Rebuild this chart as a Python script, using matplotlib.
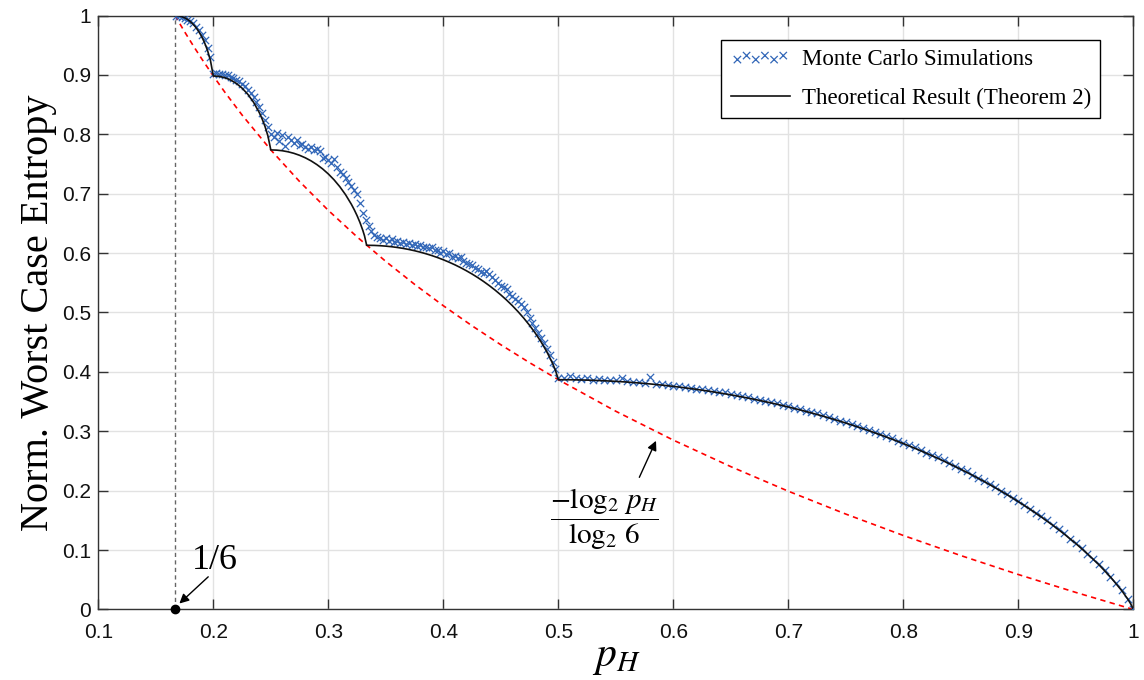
import matplotlib
matplotlib.use("Agg")

import matplotlib.pyplot as plt

# Monte Carlo simulations
mc_p = [
    0.1675, 0.17, 0.1725, 0.175, 0.1775, 0.18, 0.1825, 0.185, 0.1875, 0.19, 0.1925, 0.195, 0.1975,
    0.2, 0.2025, 0.205, 0.2075, 0.21, 0.2125, 0.215, 0.2175, 0.22, 0.2225, 0.225, 0.2275,
    0.23, 0.2325, 0.235, 0.2375, 0.24, 0.2425, 0.245, 0.2475,
    0.25, 0.2525, 0.255, 0.2575, 0.26, 0.2625, 0.265, 0.2675, 0.27, 0.2725, 0.275, 0.2775,
    0.28, 0.2825, 0.285, 0.2875, 0.29, 0.2925, 0.295, 0.2975, 0.30, 0.3025, 0.305, 0.3075,
    0.31, 0.3125, 0.315, 0.3175, 0.32, 0.3225, 0.325, 0.3275, 0.33, 0.3325,
    0.335, 0.3375, 0.34, 0.3425, 0.345, 0.3475, 0.35, 0.3525, 0.355, 0.3575, 0.36, 0.3625,
    0.365, 0.3675, 0.37, 0.3725, 0.375, 0.3775, 0.38, 0.3825, 0.385, 0.3875, 0.39, 0.3925,
    0.395, 0.3975, 0.40, 0.4025, 0.405, 0.4075, 0.41, 0.4125, 0.415, 0.4175, 0.42, 0.4225,
    0.425, 0.4275, 0.43, 0.4325, 0.435, 0.4375, 0.44, 0.4425, 0.445, 0.4475, 0.45, 0.4525,
    0.455, 0.4575, 0.46, 0.4625, 0.465, 0.4675, 0.47, 0.4725, 0.475, 0.4775, 0.48, 0.4825,
    0.485, 0.4875, 0.49, 0.4925, 0.495, 0.4975,
    0.500, 0.505, 0.510, 0.515, 0.520, 0.525, 0.530, 0.535, 0.540, 0.545, 0.550, 0.555,
    0.560, 0.565, 0.570, 0.575, 0.580, 0.585, 0.590, 0.595, 0.600, 0.605, 0.610, 0.615,
    0.620, 0.625, 0.630, 0.635, 0.640, 0.645, 0.650, 0.655, 0.660, 0.665, 0.670, 0.675,
    0.680, 0.685, 0.690, 0.695, 0.700, 0.705, 0.710, 0.715, 0.720, 0.725, 0.730, 0.735,
    0.740, 0.745, 0.750, 0.755, 0.760, 0.765, 0.770, 0.775, 0.780, 0.785, 0.790, 0.795,
    0.800, 0.805, 0.810, 0.815, 0.820, 0.825, 0.830, 0.835, 0.840, 0.845, 0.850, 0.855,
    0.860, 0.865, 0.870, 0.875, 0.880, 0.885, 0.890, 0.895, 0.900, 0.905, 0.910, 0.915,
    0.920, 0.925, 0.930, 0.935, 0.940, 0.945, 0.950, 0.955, 0.960, 0.965, 0.970, 0.975,
    0.980, 0.985, 0.990, 0.995, 1.000,
]
mc_val = [
    0.999, 0.999, 0.997, 0.995, 0.993, 0.991, 0.987, 0.981, 0.975, 0.968, 0.958, 0.946, 0.930,
    0.902, 0.903, 0.902, 0.901, 0.899, 0.899, 0.896, 0.894, 0.892, 0.889, 0.884, 0.881,
    0.875, 0.870, 0.862, 0.855, 0.846, 0.836, 0.824, 0.812,
    0.801, 0.795, 0.803, 0.788, 0.799, 0.780, 0.796, 0.791, 0.786, 0.790, 0.782, 0.784,
    0.779, 0.775, 0.778, 0.773, 0.776, 0.772, 0.760, 0.762, 0.757, 0.752, 0.758, 0.745,
    0.737, 0.733, 0.726, 0.719, 0.713, 0.706, 0.699, 0.685, 0.668, 0.655,
    0.645, 0.638, 0.630, 0.627, 0.626, 0.622, 0.625, 0.621, 0.623, 0.618, 0.621, 0.617,
    0.619, 0.616, 0.617, 0.614, 0.615, 0.612, 0.613, 0.610, 0.611, 0.608, 0.611, 0.606,
    0.605, 0.601, 0.603, 0.598, 0.600, 0.594, 0.595, 0.591, 0.593, 0.587, 0.584, 0.581,
    0.580, 0.575, 0.574, 0.569, 0.567, 0.570, 0.565, 0.560, 0.554, 0.549, 0.544, 0.543,
    0.539, 0.531, 0.528, 0.523, 0.519, 0.515, 0.509, 0.500, 0.491, 0.482, 0.474, 0.466,
    0.457, 0.448, 0.438, 0.428, 0.417, 0.405,
    0.389, 0.390, 0.393, 0.389, 0.388, 0.389, 0.387, 0.388, 0.386, 0.387, 0.386, 0.389,
    0.384, 0.383, 0.383, 0.382, 0.392, 0.380, 0.379, 0.378, 0.377, 0.376, 0.375, 0.373,
    0.372, 0.371, 0.369, 0.368, 0.366, 0.366, 0.363, 0.361, 0.359, 0.357, 0.355, 0.353,
    0.351, 0.349, 0.347, 0.344, 0.342, 0.340, 0.337, 0.335, 0.332, 0.330, 0.327, 0.324,
    0.321, 0.318, 0.315, 0.312, 0.309, 0.305, 0.302, 0.299, 0.295, 0.292, 0.288, 0.284,
    0.280, 0.277, 0.273, 0.268, 0.264, 0.260, 0.256, 0.251, 0.247, 0.242, 0.237, 0.233,
    0.227, 0.222, 0.217, 0.211, 0.206, 0.200, 0.195, 0.188, 0.183, 0.176, 0.170, 0.163,
    0.157, 0.150, 0.142, 0.135, 0.128, 0.119, 0.112, 0.103, 0.094, 0.085, 0.076, 0.066,
    0.055, 0.044, 0.032, 0.018, 0.001,
]

# Theoretical result (Theorem 2)
th_p = [
    0.16667, 0.1675, 0.17, 0.1725, 0.175, 0.1775, 0.18, 0.1825, 0.185, 0.1875, 0.19, 0.1925,
    0.195, 0.1975, 0.2,
    0.205, 0.21, 0.215, 0.22, 0.225, 0.23, 0.235, 0.24, 0.2425, 0.245, 0.2475, 0.25,
    0.2525, 0.255, 0.26, 0.265, 0.27, 0.275, 0.28, 0.285, 0.29, 0.295, 0.30, 0.305, 0.31,
    0.315, 0.32, 0.3225, 0.325, 0.3275, 0.33, 0.3315, 0.33333,
    0.335, 0.34, 0.345, 0.35, 0.355, 0.36, 0.365, 0.37, 0.375, 0.38, 0.385, 0.39, 0.395,
    0.40, 0.405, 0.41, 0.415, 0.42, 0.425, 0.43, 0.435, 0.44, 0.445, 0.45, 0.455, 0.46,
    0.465, 0.47, 0.475, 0.48, 0.485, 0.49, 0.495, 0.4975, 0.5,
    0.51, 0.52, 0.53, 0.54, 0.55, 0.56, 0.57, 0.58, 0.59, 0.60, 0.61, 0.62, 0.63, 0.64,
    0.65, 0.66, 0.67, 0.68, 0.69, 0.70, 0.71, 0.72, 0.73, 0.74, 0.75, 0.76, 0.77, 0.78,
    0.79, 0.80, 0.81, 0.82, 0.83, 0.84, 0.85, 0.86, 0.87, 0.88, 0.89, 0.90, 0.91, 0.92,
    0.93, 0.94, 0.95, 0.96, 0.97, 0.98, 0.99, 0.995, 0.9975, 1.0,
]
th_val = [
    1.0, 0.99996, 0.99943, 0.99812, 0.99624, 0.99349, 0.98985, 0.98524, 0.97955, 0.97259,
    0.96413, 0.95381, 0.94104, 0.92453, 0.89824,
    0.89753, 0.89530, 0.89140, 0.88565, 0.87777, 0.86739, 0.85396, 0.83649, 0.82569,
    0.81295, 0.79722, 0.77371,
    0.77362, 0.77336, 0.77233, 0.77055, 0.76801, 0.76465, 0.76043, 0.75526, 0.74908,
    0.74182, 0.73326, 0.72334, 0.71178, 0.69829, 0.68235, 0.67322, 0.66307, 0.65161,
    0.63827, 0.62881, 0.61315,
    0.61313, 0.61292, 0.61245, 0.61172, 0.61073, 0.60946, 0.60793, 0.60610, 0.60398,
    0.60157, 0.59885, 0.59582, 0.59246, 0.58876, 0.58472, 0.58031, 0.57553, 0.57034,
    0.56475, 0.55871, 0.55221, 0.54521, 0.53769, 0.52960, 0.52089, 0.51149, 0.50133,
    0.49031, 0.47830, 0.46511, 0.45045, 0.43383, 0.41424, 0.40249, 0.38685,
    0.38674, 0.38641, 0.38585, 0.38507, 0.38406, 0.38283, 0.38137, 0.37968, 0.37776,
    0.37562, 0.37324, 0.37062, 0.36777, 0.36468, 0.36135, 0.35777, 0.35394, 0.34986,
    0.34553, 0.34093, 0.33607, 0.33094, 0.32552, 0.31983, 0.31385, 0.30756, 0.30098,
    0.29407, 0.28685, 0.27928, 0.27137, 0.26309, 0.25443, 0.24538, 0.23592, 0.22601,
    0.21565, 0.20478, 0.19339, 0.18143, 0.16885, 0.15558, 0.14156, 0.12667, 0.11079,
    0.09373, 0.07520, 0.05472, 0.03126, 0.01757, 0.00975, 0.0,
]

# lower bound -log2(p_H)/log2(6)
bound_p = [0.16667, 0.175, 0.183, 0.19, 0.2, 0.21, 0.225, 0.25, 0.275, 0.3, 0.325, 0.35,
           0.375, 0.4, 0.425, 0.45, 0.475, 0.5, 0.55, 0.6, 0.65, 0.7, 0.75, 0.8, 0.85,
           0.9, 0.95, 1.0]
bound_val = [1.0, 0.97277, 0.94782, 0.92687, 0.89824, 0.87101, 0.83251, 0.77371, 0.72051,
             0.67195, 0.62728, 0.58591, 0.54741, 0.51139, 0.47756, 0.44566, 0.41548,
             0.38685, 0.33366, 0.28510, 0.24043, 0.19907, 0.16056, 0.12454, 0.09070,
             0.05880, 0.02863, 0.0]

# 1/6 marker
min_p = [1 / 6]
min_val = [0.0]

x_ticks = [0.1, 0.2, 0.3, 0.4, 0.5, 0.6, 0.7, 0.8, 0.9, 1.0]
x_tick_labels = ["0.1", "0.2", "0.3", "0.4", "0.5", "0.6", "0.7", "0.8", "0.9", "1"]
y_ticks = [0.0, 0.1, 0.2, 0.3, 0.4, 0.5, 0.6, 0.7, 0.8, 0.9, 1.0]
y_tick_labels = ["0", "0.1", "0.2", "0.3", "0.4", "0.5", "0.6", "0.7", "0.8", "0.9", "1"]

plt.rcParams["font.family"] = ["Liberation Sans", "DejaVu Sans"]
plt.rcParams["mathtext.fontset"] = "stix"

SERIF = ["Liberation Serif", "DejaVu Serif"]
MC_COLOR = "#3267b8"
AX_COLOR = "#333333"

fig = plt.figure(figsize=(11.44, 6.8), dpi=100)
ax = fig.add_axes([0.0859, 0.1037, 0.9049, 0.8735])

ax.set_xlim(0.1, 1.0)
ax.set_ylim(0.0, 1.0)
ax.grid(True, color="#e2e2e2", lw=1.0)
ax.set_axisbelow(True)

ax.plot(bound_p, bound_val, color="red", lw=1.2, dashes=(3.2, 2.6), zorder=2)
ax.plot([min_p[0], min_p[0]], [0, 1], color="#666666", lw=1.0, dashes=(3, 2.4), zorder=2)

ax.scatter(mc_p, mc_val, marker="x", s=28, linewidths=0.9, color=MC_COLOR,
           label="Monte Carlo Simulations", zorder=3)
ax.plot(th_p, th_val, color="#111111", lw=1.2, label="Theoretical Result (Theorem 2)",
        zorder=4)

ax.plot(min_p, min_val, "o", color="black", ms=6, clip_on=False, zorder=6)

ax.annotate("", xy=(0.1705, 0.01), xytext=(0.1956, 0.055),
            arrowprops=dict(arrowstyle="-|>", color="black", lw=1.0, mutation_scale=14,
                            shrinkA=0, shrinkB=0))
ax.text(0.2015, 0.082, "1/6", family=SERIF, fontsize=26, ha="center", va="center")

ax.annotate("", xy=(0.5849, 0.284), xytext=(0.5704, 0.2225),
            arrowprops=dict(arrowstyle="-|>", color="black", lw=1.0, mutation_scale=14,
                            shrinkA=0, shrinkB=0))
ax.text(0.5397, 0.151, r"$\dfrac{-\log_2\, p_H}{\log_2\, 6}$", fontsize=21,
        ha="center", va="center")

ax.set_xticks(x_ticks)
ax.set_xticklabels(x_tick_labels)
ax.set_yticks(y_ticks)
ax.set_yticklabels(y_tick_labels)
ax.tick_params(axis="both", direction="in", length=7, width=1.0, color=AX_COLOR,
               top=True, right=True, labelsize=15, labelcolor="#111111")
ax.tick_params(axis="x", pad=10)
ax.tick_params(axis="y", pad=5)
for side in ax.spines.values():
    side.set_color(AX_COLOR)
    side.set_linewidth(1.0)

ax.set_xlabel(r"$p_H$", fontsize=30, labelpad=-4)
ax.set_ylabel("Norm. Worst Case Entropy", family=SERIF, fontsize=29, labelpad=4)

leg = ax.legend(loc="upper right", bbox_to_anchor=(1100 / 1144, 1 - 40 / 680),
                bbox_transform=fig.transFigure, borderaxespad=0,
                prop={"family": SERIF, "size": 16.5}, scatterpoints=6,
                scatteryoffsets=[0.35, 0.6, 0.35, 0.6, 0.35, 0.6],
                handlelength=2.6, handletextpad=0.5, labelspacing=0.75, borderpad=0.4,
                fancybox=False, framealpha=1.0, edgecolor="black")
leg.get_frame().set_linewidth(1.0)

fig.savefig("out.png", dpi=100)
plt.close(fig)
